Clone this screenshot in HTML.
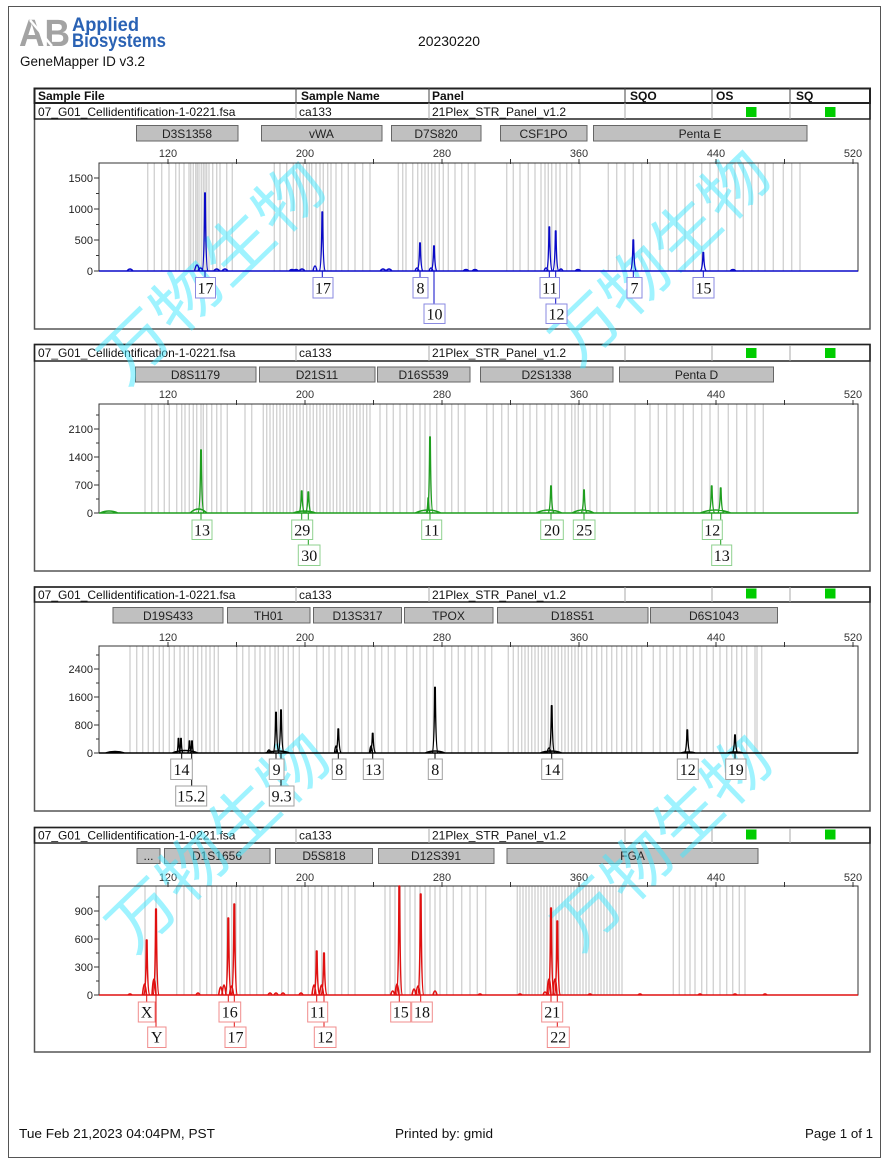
<!DOCTYPE html>
<html>
<head>
<meta charset="utf-8">
<style>
html,body{margin:0;padding:0;background:#fff;}
svg{display:block;}
</style>
</head>
<body>
<svg xmlns="http://www.w3.org/2000/svg" width="888" height="1160" viewBox="0 0 888 1160">
<rect x="0" y="0" width="888" height="1160" fill="#fff"/>
<!-- page border -->
<rect x="8.5" y="6.5" width="872" height="1151" fill="none" stroke="#555" stroke-width="1"/>

<!-- Logo -->
<g font-family="'Liberation Sans', Arial, sans-serif" font-weight="bold">
  <text x="19" y="46" font-size="38" fill="#a3a3a3" textLength="51" lengthAdjust="spacingAndGlyphs">AB</text>
  <path d="M30 20 L52 46" stroke="#fff" stroke-width="2.5"/>
  <text x="72" y="31" font-size="19" fill="#2a62b4" textLength="67" lengthAdjust="spacingAndGlyphs">Applied</text>
  <text x="72" y="47" font-size="19" fill="#2a62b4" textLength="94" lengthAdjust="spacingAndGlyphs">Biosystems</text>
</g>
<g font-family="'Liberation Sans', Arial, sans-serif" fill="#111">
  <text x="20" y="66" font-size="13.5" textLength="125" lengthAdjust="spacingAndGlyphs">GeneMapper ID v3.2</text>
  <text x="418" y="46" font-size="14" textLength="62" lengthAdjust="spacingAndGlyphs">20230220</text>
  <text x="19" y="1138" font-size="13" textLength="196" lengthAdjust="spacingAndGlyphs">Tue Feb 21,2023 04:04PM, PST</text>
  <text x="395" y="1138" font-size="13" textLength="98" lengthAdjust="spacingAndGlyphs">Printed by: gmid</text>
  <text x="805" y="1138" font-size="13" textLength="68" lengthAdjust="spacingAndGlyphs">Page 1 of 1</text>
</g>

<!-- ================= PANEL FRAMES & TABLE ROWS ================= -->
<g fill="none">
  <rect x="34.5" y="88.5" width="835.5" height="240.5" stroke="#555" stroke-width="1.5"/>
  <rect x="34.5" y="88.5" width="835.5" height="14.5" stroke="#222" stroke-width="2"/>
  <rect x="34.5" y="103" width="835.5" height="16" stroke="#222" stroke-width="1.5"/>
  <path d="M296 88v15M429 88v15M625 88v15M712 88v15M790 88v15" stroke="#444" stroke-width="1"/>
  <path d="M296 103v16M429 103v16M625 103v16M712 103v16M790 103v16" stroke="#aaa" stroke-width="1"/>

  <rect x="34.5" y="344.5" width="835.5" height="226.5" stroke="#555" stroke-width="1.5"/>
  <rect x="34.5" y="344.5" width="835.5" height="16.5" stroke="#222" stroke-width="1.5"/>
  <path d="M296 345v16M429 345v16M625 345v16M712 345v16M790 345v16" stroke="#aaa" stroke-width="1"/>

  <rect x="34.5" y="587" width="835.5" height="224" stroke="#555" stroke-width="1.5"/>
  <rect x="34.5" y="587" width="835.5" height="15" stroke="#222" stroke-width="1.5"/>
  <path d="M296 587v15M429 587v15M625 587v15M712 587v15M790 587v15" stroke="#aaa" stroke-width="1"/>

  <rect x="34.5" y="827.5" width="835.5" height="224.5" stroke="#555" stroke-width="1.5"/>
  <rect x="34.5" y="827.5" width="835.5" height="15.5" stroke="#222" stroke-width="1.5"/>
  <path d="M296 828v15M429 828v15M625 828v15M712 828v15M790 828v15" stroke="#aaa" stroke-width="1"/>
</g>

<g font-family="'Liberation Sans', Arial, sans-serif" font-size="12" fill="#111">
  <g font-weight="bold">
    <text x="38" y="100">Sample File</text>
    <text x="301" y="100">Sample Name</text>
    <text x="432" y="100">Panel</text>
    <text x="630" y="100">SQO</text>
    <text x="716" y="100">OS</text>
    <text x="796" y="100">SQ</text>
  </g>
  <text x="38" y="116">07_G01_Cellidentification-1-0221.fsa</text>
  <text x="299" y="116">ca133</text>
  <text x="432" y="116">21Plex_STR_Panel_v1.2</text>

  <text x="38" y="357">07_G01_Cellidentification-1-0221.fsa</text>
  <text x="299" y="357">ca133</text>
  <text x="432" y="357">21Plex_STR_Panel_v1.2</text>

  <text x="38" y="599">07_G01_Cellidentification-1-0221.fsa</text>
  <text x="299" y="599">ca133</text>
  <text x="432" y="599">21Plex_STR_Panel_v1.2</text>

  <text x="38" y="839.5">07_G01_Cellidentification-1-0221.fsa</text>
  <text x="299" y="839.5">ca133</text>
  <text x="432" y="839.5">21Plex_STR_Panel_v1.2</text>
</g>
<g fill="#00cc00">
  <rect x="746" y="107" width="10.5" height="10"/><rect x="825" y="107" width="10.5" height="10"/>
  <rect x="746" y="348" width="10.5" height="10"/><rect x="825" y="348" width="10.5" height="10"/>
  <rect x="746" y="588.5" width="10.5" height="10"/><rect x="825" y="588.5" width="10.5" height="10"/>
  <rect x="746" y="829.5" width="10.5" height="10"/><rect x="825" y="829.5" width="10.5" height="10"/>
</g>

<!-- ================= MARKER BINS ================= -->
<g fill="#c0c0c0" stroke="#666" stroke-width="1">
  <rect x="136.5" y="125.5" width="101.5" height="15.5"/>
  <rect x="261.5" y="125.5" width="120.5" height="15.5"/>
  <rect x="391.5" y="125.5" width="89.5" height="15.5"/>
  <rect x="500.5" y="125.5" width="86.5" height="15.5"/>
  <rect x="593.5" y="125.5" width="213.5" height="15.5"/>

  <rect x="135.5" y="367" width="120.5" height="15"/>
  <rect x="259.5" y="367" width="115.5" height="15"/>
  <rect x="377.5" y="367" width="92.5" height="15"/>
  <rect x="480.5" y="367" width="132.5" height="15"/>
  <rect x="619.5" y="367" width="154" height="15"/>

  <rect x="113" y="607.5" width="110" height="15.5"/>
  <rect x="227.5" y="607.5" width="82.5" height="15.5"/>
  <rect x="313.5" y="607.5" width="88" height="15.5"/>
  <rect x="404.5" y="607.5" width="88.5" height="15.5"/>
  <rect x="497.5" y="607.5" width="150.5" height="15.5"/>
  <rect x="650.5" y="607.5" width="127" height="15.5"/>

  <rect x="137" y="848.5" width="23" height="15"/>
  <rect x="164.5" y="848.5" width="105.5" height="15"/>
  <rect x="275.5" y="848.5" width="97" height="15"/>
  <rect x="378.5" y="848.5" width="115.5" height="15"/>
  <rect x="507" y="848.5" width="251" height="15"/>
</g>
<g font-family="'Liberation Sans', Arial, sans-serif" font-size="12" fill="#222" text-anchor="middle">
  <text x="187" y="138">D3S1358</text>
  <text x="321.5" y="138">vWA</text>
  <text x="436" y="138">D7S820</text>
  <text x="543.5" y="138">CSF1PO</text>
  <text x="700" y="138">Penta E</text>

  <text x="195.5" y="379">D8S1179</text>
  <text x="317" y="379">D21S11</text>
  <text x="423.5" y="379">D16S539</text>
  <text x="546.5" y="379">D2S1338</text>
  <text x="696.5" y="379">Penta D</text>

  <text x="168" y="620">D19S433</text>
  <text x="268.5" y="620">TH01</text>
  <text x="357.5" y="620">D13S317</text>
  <text x="448.5" y="620">TPOX</text>
  <text x="572.5" y="620">D18S51</text>
  <text x="714" y="620">D6S1043</text>

  <text x="148.5" y="860">...</text>
  <text x="217" y="860">D1S1656</text>
  <text x="324" y="860">D5S818</text>
  <text x="436" y="860">D12S391</text>
  <text x="632.5" y="860">FGA</text>
</g>

<!-- ================= X AXIS LABELS ================= -->
<g font-family="'Liberation Sans', Arial, sans-serif" font-size="11" fill="#333" text-anchor="middle">
  <text x="168" y="157">120</text><text x="305" y="157">200</text><text x="442" y="157">280</text><text x="579" y="157">360</text><text x="716" y="157">440</text><text x="853" y="157">520</text>
  <text x="168" y="398">120</text><text x="305" y="398">200</text><text x="442" y="398">280</text><text x="579" y="398">360</text><text x="716" y="398">440</text><text x="853" y="398">520</text>
  <text x="168" y="641">120</text><text x="305" y="641">200</text><text x="442" y="641">280</text><text x="579" y="641">360</text><text x="716" y="641">440</text><text x="853" y="641">520</text>
  <text x="168" y="881">120</text><text x="305" y="881">200</text><text x="442" y="881">280</text><text x="579" y="881">360</text><text x="716" y="881">440</text><text x="853" y="881">520</text>
</g>
<!-- Y AXIS LABELS -->
<g font-family="'Liberation Sans', Arial, sans-serif" font-size="11" fill="#222" text-anchor="end">
  <text x="93" y="182">1500</text><text x="93" y="213">1000</text><text x="93" y="244">500</text><text x="93" y="275">0</text>
  <text x="93" y="433">2100</text><text x="93" y="461">1400</text><text x="93" y="489">700</text><text x="93" y="517">0</text>
  <text x="93" y="673">2400</text><text x="93" y="701">1600</text><text x="93" y="729">800</text><text x="93" y="757">0</text>
  <text x="93" y="915">900</text><text x="93" y="943">600</text><text x="93" y="971">300</text><text x="93" y="999">0</text>
</g>

<!-- ================= GRAY BIN LINES ================= -->
<g fill="none" stroke="#d3d3d3" stroke-width="1.4">
<path d="M147.7 163v108M154.3 163v108M161.7 163v108M169 163v108M175.7 163v108M179.3 163v108M184 163v108M189 163v108M190.7 163v108M193.3 163v108M195.7 163v108M197.3 163v108M199 163v108M201.3 163v108M203.3 163v108M205 163v108M206.7 163v108M209 163v108M212.7 163v108M216.7 163v108M220 163v108M226.7 163v108M232.3 163v108M274.3 163v108M280 163v108M286.7 163v108M293.3 163v108M296.7 163v108M300 163v108M303.3 163v108M306.7 163v108M309.3 163v108M311.7 163v108M316 163v108M320 163v108M323.3 163v108M327.7 163v108M331 163v108M336 163v108M341.7 163v108M348.3 163v108M355 163v108M362.7 163v108M370 163v108M398.3 163v108M402.7 163v108M406 163v108M412.7 163v108M417.7 163v108M421.7 163v108M425 163v108M428.3 163v108M431.7 163v108M435 163v108M439.3 163v108M443.3 163v108M448.3 163v108M455 163v108M461.7 163v108M468.3 163v108M475 163v108M506.7 163v108M513.3 163v108M520 163v108M528.3 163v108M535 163v108M541 163v108M545 163v108M548.3 163v108M551.7 163v108M556 163v108M560 163v108M566.7 163v108M571.7 163v108M580 163v108M608.3 163v108M616.7 163v108M625 163v108M633.3 163v108M641.7 163v108M650 163v108M660 163v108M668.3 163v108M676.7 163v108M685 163v108M693.3 163v108M701.7 163v108M710 163v108M718.3 163v108M726.7 163v108M735 163v108M743.3 163v108M751.7 163v108M758.3 163v108M765 163v108M773.3 163v108M783.3 163v108M791.7 163v108M800 163v108"/>
<path d="M145 404v109M151.7 404v109M158.3 404v109M164.3 404v109M169.3 404v109M176.7 404v109M181.7 404v109M185 404v109M189.3 404v109M193.3 404v109M196.7 404v109M201 404v109M203.3 404v109M206.7 404v109M211.7 404v109M216.7 404v109M221 404v109M227.3 404v109M245 404v109M251.7 404v109M263.3 404v109M266.7 404v109M270 404v109M273.3 404v109M276.7 404v109M280 404v109M283.3 404v109M286.7 404v109M290 404v109M293.3 404v109M296.7 404v109M300 404v109M303.3 404v109M306.7 404v109M310 404v109M313.3 404v109M316.7 404v109M320 404v109M323.3 404v109M326.7 404v109M330 404v109M333.3 404v109M336.7 404v109M340 404v109M343.3 404v109M346.7 404v109M350 404v109M353.3 404v109M356.7 404v109M360 404v109M363.3 404v109M366.7 404v109M370 404v109M380 404v109M386.7 404v109M393.3 404v109M400 404v109M406.7 404v109M413.3 404v109M420 404v109M425 404v109M430 404v109M436.7 404v109M445 404v109M451.7 404v109M458.3 404v109M465 404v109M486.7 404v109M493.3 404v109M501.7 404v109M508.3 404v109M516.7 404v109M523.3 404v109M530 404v109M536.7 404v109M545 404v109M551.7 404v109M558.3 404v109M565 404v109M571.7 404v109M575 404v109M578.3 404v109M583.3 404v109M590 404v109M596.7 404v109M603.3 404v109M610 404v109M635 404v109M650 404v109M658.3 404v109M666.7 404v109M675 404v109M683.3 404v109M693.3 404v109M701.7 404v109M710 404v109M718.3 404v109M728.3 404v109M736.7 404v109M746.7 404v109M755 404v109M763.3 404v109"/>
<path d="M130 646v107M136.7 646v107M142.7 646v107M148.3 646v107M153.3 646v107M159.3 646v107M163.3 646v107M169.3 646v107M174.3 646v107M180 646v107M184.3 646v107M188.3 646v107M193.3 646v107M197.7 646v107M201.7 646v107M206 646v107M210 646v107M214.3 646v107M218.3 646v107M236.7 646v107M242.7 646v107M249 646v107M255 646v107M260 646v107M265 646v107M270 646v107M275 646v107M278.3 646v107M283.3 646v107M288.3 646v107M293.3 646v107M299.3 646v107M316.7 646v107M323.3 646v107M329 646v107M335 646v107M341.7 646v107M348.3 646v107M355 646v107M361.7 646v107M368.3 646v107M375 646v107M381.7 646v107M388.3 646v107M395 646v107M406.7 646v107M413.3 646v107M420 646v107M426.7 646v107M433.3 646v107M445 646v107M451.7 646v107M458.3 646v107M465 646v107M471.7 646v107M478.3 646v107M485 646v107M491.7 646v107M508.3 646v107M513.3 646v107M518.3 646v107M521.7 646v107M525 646v107M528.3 646v107M531.7 646v107M535 646v107M538.3 646v107M541.7 646v107M545 646v107M548.3 646v107M551.7 646v107M555 646v107M558.3 646v107M561.7 646v107M565 646v107M568.3 646v107M571.7 646v107M575 646v107M578.3 646v107M581.7 646v107M586.7 646v107M591.7 646v107M596.7 646v107M601.7 646v107M606.7 646v107M611.7 646v107M616.7 646v107M621.7 646v107M626.7 646v107M631.7 646v107M636.7 646v107M641.7 646v107M653.3 646v107M660 646v107M666.7 646v107M673.3 646v107M680 646v107M686.7 646v107M693.3 646v107M700 646v107M706.7 646v107M713.3 646v107M720 646v107M726.7 646v107M731.7 646v107M736.7 646v107M741.7 646v107M746.7 646v107M755 646v107M757 646v107M761.7 646v107"/>
<path d="M145 886v109M156 886v109M176.7 886v109M184 886v109M191.7 886v109M200 886v109M206.7 886v109M211.7 886v109M216.7 886v109M221.7 886v109M226.7 886v109M231.7 886v109M236 886v109M240 886v109M245 886v109M250 886v109M256.7 886v109M263.3 886v109M281.7 886v109M288.3 886v109M295 886v109M301.7 886v109M308.3 886v109M315 886v109M321.7 886v109M328.3 886v109M335 886v109M341.7 886v109M348.3 886v109M355 886v109M385 886v109M390 886v109M395 886v109M400 886v109M405 886v109M410 886v109M415 886v109M420 886v109M425 886v109M430 886v109M435 886v109M440 886v109M446.7 886v109M453.3 886v109M461.7 886v109M470 886v109M477.3 886v109M485.7 886v109M517.3 886v109M520 886v109M523 886v109M526 886v109M529 886v109M532 886v109M535 886v109M538 886v109M541 886v109M544 886v109M547 886v109M550 886v109M553 886v109M556 886v109M559 886v109M562 886v109M565 886v109M568 886v109M571 886v109M574 886v109M577 886v109M580 886v109M583 886v109M586 886v109M589 886v109M592 886v109M595 886v109M598 886v109M601 886v109M604 886v109M607 886v109M610 886v109M613 886v109M616 886v109M619 886v109M622 886v109M673.3 886v109M679.3 886v109M685 886v109M690 886v109M695 886v109M701.7 886v109M706.7 886v109M713.3 886v109M720 886v109M726.7 886v109M732.7 886v109M739.3 886v109M745 886v109"/>
</g>

<!-- ================= WATERMARKS ================= -->
<g font-family="'Liberation Sans','Noto Sans CJK SC','WenQuanYi Zen Hei',sans-serif" font-size="64" fill="#40e8ff" fill-opacity="0.5" text-anchor="middle">
  <text x="212" y="295" transform="rotate(-44 212 272)" textLength="285" lengthAdjust="spacingAndGlyphs">万物生物</text>
  <text x="660" y="280" transform="rotate(-44 660 257)" textLength="275" lengthAdjust="spacingAndGlyphs">万物生物</text>
  <text x="218" y="865" transform="rotate(-44 218 842)" textLength="280" lengthAdjust="spacingAndGlyphs">万物生物</text>
  <text x="662" y="865" transform="rotate(-44 662 842)" textLength="275" lengthAdjust="spacingAndGlyphs">万物生物</text>
</g>

<!-- ================= PLOT FRAMES & TICKS ================= -->
<g fill="none" stroke="#333" stroke-width="1">
  <rect x="99" y="163" width="759" height="108"/>
  <rect x="99" y="404" width="759" height="109"/>
  <rect x="99" y="646" width="759" height="107"/>
  <rect x="99" y="886" width="759" height="109"/>
  <path d="M168 159v5M236.5 159v5M305 159v5M373.5 159v5M442 159v5M510.5 159v5M579 159v5M647.5 159v5M716 159v5M784.5 159v5M853 159v5"/>
  <path d="M168 400v5M236.5 400v5M305 400v5M373.5 400v5M442 400v5M510.5 400v5M579 400v5M647.5 400v5M716 400v5M784.5 400v5M853 400v5"/>
  <path d="M168 642v5M236.5 642v5M305 642v5M373.5 642v5M442 642v5M510.5 642v5M579 642v5M647.5 642v5M716 642v5M784.5 642v5M853 642v5"/>
  <path d="M168 882v5M236.5 882v5M305 882v5M373.5 882v5M442 882v5M510.5 882v5M579 882v5M647.5 882v5M716 882v5M784.5 882v5M853 882v5"/>
  <path d="M94 271h5M94 240h5M94 209h5M94 178h5M96 255.5h3M96 224.5h3M96 193.5h3"/>
  <path d="M94 513h5M94 485h5M94 457h5M94 429h5M96 499h3M96 471h3M96 443h3M96 415h3"/>
  <path d="M94 753h5M94 725h5M94 697h5M94 669h5M96 739h3M96 711h3M96 683h3M96 655h3"/>
  <path d="M94 995h5M94 967h5M94 939h5M94 911h5M96 981h3M96 953h3M96 925h3M96 897h3"/>
</g>

<!-- ================= TRACES ================= -->
<!-- Panel 1 blue -->
<path fill="none" stroke="#0a0ac8" stroke-width="1.4" stroke-linejoin="round" d="M99 271H858
M202 271Q204.2 270 204.7 193L205.3 193Q205.8 270 208 271
M319.3 271Q321.5 270 322 212L322.6 212Q323.1 270 325.3 271
M417 271Q419.2 270 419.7 243L420.3 243Q420.8 270 423 271
M431 271Q433.2 270 433.7 246L434.3 246Q434.8 270 437 271
M546.3 271Q548.5 270 549 227L549.6 227Q550.1 270 552.3 271
M552.7 271Q554.9 270 555.4 231L556 231Q556.5 270 558.7 271
M630.3 271Q632.5 270 633 240L633.6 240Q634.1 270 636.3 271
M700.3 271Q702.5 270 703 252.5L703.6 252.5Q704.1 270 706.3 271
M127 271Q130 267 133 271M194.5 271Q197 259 199.5 271M198 271Q200.5 265 203 271M213.7 271Q216.7 267 219.7 271M222 271Q225 267 228 271M289 271Q292 268 295 271M293 271Q296 268 299 271M299 271Q302 267 305 271M313 271Q315 261 317 271M380 271Q383 267 386 271M386 271Q389 267 392 271M415 271Q417 265 419 271M429 271Q431 265 433 271M463 271Q466 268 469 271M472 271Q475 268 478 271M544 271Q546 265 548 271M559 271Q561 267 563 271M575 271Q578 268 581 271M730 271Q733 268 736 271"/>

<!-- Panel 2 green -->
<path fill="none" stroke="#1e9e1e" stroke-width="1.4" stroke-linejoin="round" d="M99 513H858
M100 513Q109 509 118 513M190 513Q198.5 505 207 513M293 513Q304.5 509 316 513M415 513Q428 507 441 513M536 513Q549 507 562 513M572 513Q583 507 594 513M700 513Q715.5 507 731 513
M198 513Q200.2 512 200.7 450L201.3 450Q201.8 512 204 513
M298.7 513Q300.9 512 301.4 491L302 491Q302.5 512 304.7 513
M305.3 513Q307.5 512 308 492L308.6 492Q309.1 512 311.3 513
M427 513Q429.2 512 429.7 437L430.3 437Q430.8 512 433 513
M426 513Q427.5 512 428 498L428.4 498Q428.8 512 430 513
M548 513Q550.2 512 550.7 486L551.3 486Q551.8 512 554 513
M581 513Q583.2 512 583.7 490L584.3 490Q584.8 512 587 513
M708.7 513Q710.9 512 711.4 486L712 486Q712.5 512 714.7 513
M717.7 513Q719.9 512 720.4 488L721 488Q721.5 512 723.7 513"/>

<!-- Panel 3 black -->
<path fill="none" stroke="#000" stroke-width="1.4" stroke-linejoin="round" d="M99 753H858
M105 753Q115 750 125 753M172 753Q185 748 198 753M265 753Q278 749 290 753M425 753Q435 749 445 753M540 753Q551 749 562 753M680 753Q688 751 696 753M727 753Q735 751 744 753
M176.5 753Q177.9 752 178.25 738.5L178.75 738.5Q179.1 752 180.5 753
M179 753Q180.4 752 180.75 738.5L181.25 738.5Q181.6 752 183 753
M187.5 753Q188.9 752 189.25 741L189.75 741Q190.1 752 191.5 753
M190 753Q191.4 752 191.75 741L192.25 741Q192.6 752 194 753
M267 753Q269 747 271 753
M273 753Q275.2 752 275.7 712.3L276.3 712.3Q276.8 752 279 753
M278 753Q280.2 752 280.7 710L281.3 710Q281.8 752 284 753
M335.3 753Q337.5 752 338 729L338.6 729Q339.1 752 341.3 753
M334.5 753Q336 739 337.5 753
M369.7 753Q371.9 752 372.4 733.3L373 733.3Q373.5 752 375.7 753
M369.5 753Q371 739 372.5 753
M432 753Q434.2 752 434.7 687.3L435.3 687.3Q435.8 752 438 753
M548.7 753Q550.9 752 551.4 705.7L552 705.7Q552.5 752 554.7 753
M547 753Q549 743 551 753
M684.3 753Q686.5 752 687 730L687.6 730Q688.1 752 690.3 753
M732 753Q734.2 752 734.7 735L735.3 735Q735.8 752 738 753"/>

<!-- Panel 4 red -->
<path fill="none" stroke="#e01010" stroke-width="1.6" stroke-linejoin="round" d="M99 995H858
M143.7 995Q145.9 994 146.4 940L147 940Q147.5 994 149.7 995
M142.5 995Q144.5 973 146.5 995
M153 995Q155.2 994 155.7 909L156.3 909Q156.8 994 159 995
M152 995Q154 963 156 995
M218.7 995Q220.7 979 222.7 995
M222 995Q224 975 226 995
M225.3 995Q227.5 994 228 918L228.6 918Q229.1 994 231.3 995
M231.3 995Q233.5 994 234 904L234.6 904Q235.1 994 237.3 995
M229.5 995Q231.5 977 233.5 995
M313.7 995Q315.9 994 316.4 951L317 951Q317.5 994 319.7 995
M312 995Q314 975 316 995
M321 995Q323.2 994 323.7 953L324.3 953Q324.8 994 327 995
M319.5 995Q321.5 975 323.5 995
M390.7 995Q392.7 987 394.7 995
M396.3 995Q398.5 994 399 886L399.6 886Q400.1 994 402.3 995
M395 995Q397 973 399 995
M412 995Q414 983 416 995
M417.7 995Q419.9 994 420.4 894L421 894Q421.5 994 423.7 995
M416 995Q418 977 420 995
M433 995Q435 987 437 995
M543 995Q545 989 547 995
M547 995Q549 963 551 995
M548 995Q550.2 994 550.7 908L551.3 908Q551.8 994 554 995
M553 995Q555 963 557 995
M554.3 995Q556.5 994 557 921L557.6 921Q558.1 994 560.3 995
M128 995Q130 993 132 995M196 995Q198 991 200 995M268 995Q270 991 272 995M274 995Q276 991 278 995M281 995Q283 991 285 995M299 995Q301 991 303 995M478 995Q480 993 482 995M518 995Q520 993 522 995M588 995Q590 993 592 995M638 995Q640 993 642 995M698 995Q700 993 702 995M733 995Q735 993 737 995M763 995Q765 993 767 995"/>

<!-- ================= ALLELE LABELS ================= -->
<!-- Panel 1 -->
<g fill="none" stroke="#0a0ac8" stroke-width="1">
  <path d="M205 271v6M322.3 271v6M420 271v6M434 271v33M549.3 271v6M555.7 271v33M633.3 271v6M703.3 271v6"/>
</g>
<g fill="#fff" stroke="#8a8ae0" stroke-width="1">
  <rect x="195.5" y="277.5" width="20" height="20.5"/>
  <rect x="313" y="277.5" width="20" height="20.5"/>
  <rect x="413" y="277.5" width="15" height="20.5"/>
  <rect x="424" y="304" width="21" height="19.5"/>
  <rect x="540" y="277.5" width="19.5" height="20.5"/>
  <rect x="546" y="304" width="21" height="19.5"/>
  <rect x="627" y="277.5" width="15" height="20.5"/>
  <rect x="693" y="277.5" width="21" height="20.5"/>
</g>
<g font-family="'Liberation Serif', 'Times New Roman', serif" font-size="16" fill="#111" text-anchor="middle">
  <text x="205.5" y="293.5">17</text>
  <text x="323" y="293.5">17</text>
  <text x="420.5" y="293.5">8</text>
  <text x="434.5" y="319.5">10</text>
  <text x="549.8" y="293.5">11</text>
  <text x="556.5" y="319.5">12</text>
  <text x="634.5" y="293.5">7</text>
  <text x="703.5" y="293.5">15</text>
</g>

<!-- Panel 2 -->
<g fill="none" stroke="#1e9e1e" stroke-width="1">
  <path d="M201 513v7M301.7 513v7M308.3 513v32M430 513v7M551 513v7M584 513v7M711.7 513v7M720.7 513v32"/>
</g>
<g fill="#fff" stroke="#8fd08f" stroke-width="1">
  <rect x="192" y="520" width="20" height="19.5"/>
  <rect x="291.7" y="520" width="21" height="19.5"/>
  <rect x="298.3" y="545" width="21.7" height="20.5"/>
  <rect x="421.7" y="520" width="20" height="19.5"/>
  <rect x="540.7" y="520" width="22.6" height="19.5"/>
  <rect x="573.3" y="520" width="21.7" height="19.5"/>
  <rect x="702.3" y="520" width="20" height="19.5"/>
  <rect x="711.7" y="545" width="20" height="20.5"/>
</g>
<g font-family="'Liberation Serif', 'Times New Roman', serif" font-size="16" fill="#111" text-anchor="middle">
  <text x="202" y="535.5">13</text>
  <text x="302.2" y="535.5">29</text>
  <text x="309.2" y="561">30</text>
  <text x="431.7" y="535.5">11</text>
  <text x="552" y="535.5">20</text>
  <text x="584.2" y="535.5">25</text>
  <text x="712.3" y="535.5">12</text>
  <text x="721.7" y="561">13</text>
</g>

<!-- Panel 3 -->
<g fill="none" stroke="#000" stroke-width="1">
  <path d="M181.7 753v6M191.7 753v33M276 753v6M281 753v33M338.3 753v6M372.7 753v6M435 753v6M551.7 753v6M687.3 753v6M735 753v6"/>
</g>
<g fill="#fff" stroke="#a0a0a0" stroke-width="1">
  <rect x="170.7" y="759" width="21.6" height="20.5"/>
  <rect x="175.7" y="786" width="31" height="20"/>
  <rect x="269.3" y="759" width="14.7" height="20.5"/>
  <rect x="269.3" y="786" width="24.7" height="20"/>
  <rect x="332.3" y="759" width="13.7" height="20.5"/>
  <rect x="363.3" y="759" width="20" height="20.5"/>
  <rect x="428.3" y="759" width="14" height="20.5"/>
  <rect x="541.7" y="759" width="21" height="20.5"/>
  <rect x="677.3" y="759" width="21" height="20.5"/>
  <rect x="725.7" y="759" width="20.3" height="20.5"/>
</g>
<g font-family="'Liberation Serif', 'Times New Roman', serif" font-size="16" fill="#111" text-anchor="middle">
  <text x="181.5" y="775">14</text>
  <text x="191.2" y="801.5">15.2</text>
  <text x="276.6" y="775">9</text>
  <text x="281.6" y="801.5">9.3</text>
  <text x="339.2" y="775">8</text>
  <text x="373.3" y="775">13</text>
  <text x="435.3" y="775">8</text>
  <text x="552.2" y="775">14</text>
  <text x="687.8" y="775">12</text>
  <text x="735.8" y="775">19</text>
</g>

<!-- Panel 4 -->
<g fill="none" stroke="#e01010" stroke-width="1">
  <path d="M146.7 995v7M156 995v32M228.3 995v7M234.3 995v32M316.7 995v7M324 995v32M399.3 995v7M420.7 995v7M551 995v7M557.3 995v32"/>
</g>
<g fill="#fff" stroke="#f08c8c" stroke-width="1">
  <rect x="138.3" y="1002" width="16.7" height="20"/>
  <rect x="147.7" y="1027" width="18.3" height="20.5"/>
  <rect x="219" y="1002" width="21.7" height="20"/>
  <rect x="225" y="1027" width="21" height="20.5"/>
  <rect x="307.7" y="1002" width="20" height="20"/>
  <rect x="314.3" y="1027" width="21.7" height="20.5"/>
  <rect x="390.7" y="1002" width="20" height="20"/>
  <rect x="411.7" y="1002" width="20.6" height="20"/>
  <rect x="541.7" y="1002" width="21" height="20"/>
  <rect x="547.3" y="1027" width="22" height="20.5"/>
</g>
<g font-family="'Liberation Serif', 'Times New Roman', serif" font-size="16" fill="#111" text-anchor="middle">
  <text x="146.7" y="1017.5">X</text>
  <text x="156.8" y="1042.5">Y</text>
  <text x="229.8" y="1017.5">16</text>
  <text x="235.5" y="1042.5">17</text>
  <text x="317.7" y="1017.5">11</text>
  <text x="325.2" y="1042.5">12</text>
  <text x="400.7" y="1017.5">15</text>
  <text x="422" y="1017.5">18</text>
  <text x="552.2" y="1017.5">21</text>
  <text x="558.3" y="1042.5">22</text>
</g>
</svg>
</body>
</html>
